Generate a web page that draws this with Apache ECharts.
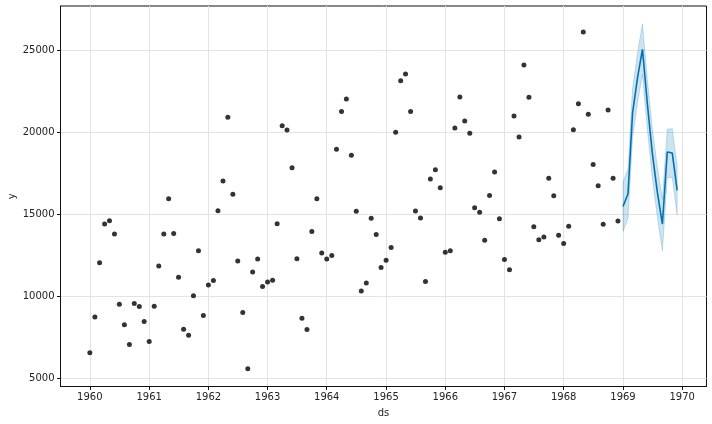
<!DOCTYPE html>
<html><head><meta charset="utf-8">
<script src="https://cdn.jsdelivr.net/npm/echarts@6/dist/echarts.min.js"></script>
<style>html,body{margin:0;padding:0;background:#fff}#c{width:712px;height:424px}</style>
</head><body><div id="c"></div>
<script>
// Monthly car sales, Jan 1960 .. Dec 1968
const startYear = 1960;
const salesHistory = [
  6550, 8728, 12026, 14395, 14587, 13791, 9498, 8251, 7049, 9545, 9364, 8456,
  7237, 9374, 11837, 13784, 15926, 13821, 11143, 7975, 7610, 10015, 12759, 8816,
  10677, 10947, 15200, 17010, 20900, 16205, 12143, 8997, 5568, 11474, 12256, 10583,
  10862, 10965, 14405, 20379, 20128, 17816, 12268, 8642, 7962, 13932, 15936, 12628,
  12267, 12470, 18944, 21259, 22015, 18581, 15175, 10306, 10792, 14752, 13754, 11738,
  12181, 12965, 19990, 23125, 23541, 21247, 15189, 14767, 10895, 17130, 17697, 16611,
  12674, 12760, 20249, 22135, 20677, 19933, 15388, 15113, 13401, 16135, 17562, 14720,
  12225, 11608, 20985, 19692, 24081, 22114, 14220, 13434, 13598, 17187, 16119, 13713,
  13210, 14251, 20139, 21725, 26099, 21084, 18024, 16722, 14385, 21342, 17180, 14577
];
// Forecast Jan 1969 .. Dec 1969
const forecastYhat  = [15463, 16240, 21160, 23330, 25040, 21650, 18700, 16320, 14390, 18780, 18720, 16440];
const forecastLower = [13940, 14740, 19650, 21800, 23500, 20100, 17200, 14800, 12760, 17200, 17230, 14950];
const forecastUpper = [16950, 17750, 22650, 24850, 26590, 23150, 20200, 17850, 15900, 20180, 20200, 17950];
const yearTicks = [1960, 1961, 1962, 1963, 1964, 1965, 1966, 1967, 1968, 1969, 1970];
const yTicks = [5000, 10000, 15000, 20000, 25000];

function monthTs(i) { return Date.UTC(startYear + Math.floor(i / 12), i % 12, 1); }
const nHist = salesHistory.length;
const histData = salesHistory.map((v, i) => [monthTs(i), v]);
const yhatData = forecastYhat.map((v, i) => [monthTs(nHist + i), v]);
const bandData = forecastUpper.map((v, i) => [monthTs(nHist + i), forecastLower[i], v]);
const yearTs = yearTicks.map(y => Date.UTC(y, 0, 1));

const font = 'DejaVu Sans';
const chart = echarts.init(document.getElementById('c'), null, { renderer: 'canvas' });
chart.setOption({
  animation: false,
  backgroundColor: '#fff',
  grid: { left: 60.5, right: 5.5, top: 6, bottom: 37.5, containLabel: false, outerBoundsMode: 'none',
          show: true, borderColor: '#111', borderWidth: 1, backgroundColor: 'transparent' },
  xAxis: {
    type: 'value',
    min: Date.UTC(1959, 6, 4),
    max: Date.UTC(1970, 4, 31),
    axisLine: { show: true, onZero: false, lineStyle: { color: '#111', width: 1 } },
    axisTick: { show: true, customValues: yearTs, length: 3.5, lineStyle: { color: '#111' } },
    axisLabel: { customValues: yearTs, hideOverlap: false, formatter: v => String(new Date(v).getUTCFullYear()), color: '#222', fontSize: 10, fontFamily: font, margin: 6 },
    splitLine: { show: true, lineStyle: { color: '#e3e3e3', width: 1 } },
    name: 'ds', nameLocation: 'middle', nameGap: 22, nameMoveOverlap: false,
    nameTextStyle: { color: '#222', fontSize: 10, fontFamily: font }
  },
  yAxis: {
    type: 'value',
    min: 4488, max: 27683,
    axisLine: { show: true, onZero: false, lineStyle: { color: '#111', width: 1 } },
    axisTick: { show: true, customValues: yTicks, length: 3.5, lineStyle: { color: '#111' } },
    axisLabel: { customValues: yTicks, formatter: v => String(v), color: '#222', fontSize: 10, fontFamily: font, margin: 6 },
    splitLine: { show: true, lineStyle: { color: '#e3e3e3', width: 1 } },
    name: 'y', nameLocation: 'middle', nameGap: 43, nameRotate: 90, nameMoveOverlap: false,
    nameTextStyle: { color: '#222', fontSize: 10, fontFamily: font }
  },
  series: [
    { type: 'scatter', data: histData, symbolSize: 5, itemStyle: { color: '#000' }, z: 3 },
    {
      type: 'custom', data: bandData, z: 2, encode: { x: 0, y: [1, 2] },
      renderItem: function (params, api) {
        if (params.dataIndex !== 0) return null;
        const upperPts = bandData.map(d => api.coord([d[0], d[2]]));
        const lowerPts = bandData.map(d => api.coord([d[0], d[1]])).reverse();
        return {
          type: 'polygon',
          shape: { points: upperPts.concat(lowerPts) },
          style: { fill: 'rgba(0,114,178,0.2)', stroke: 'rgba(0,114,178,0.2)', lineWidth: 1 }
        };
      }
    },
    { type: 'line', data: yhatData, symbol: 'none', lineStyle: { color: '#0072B2', width: 1.6 }, z: 4 }
  ]
});
</script></body></html>
